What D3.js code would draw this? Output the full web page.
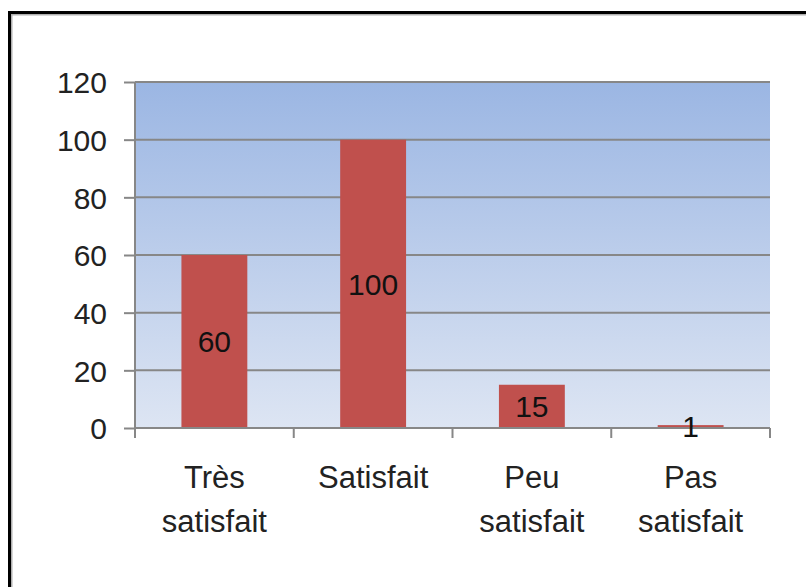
<!DOCTYPE html>
<html>
<head>
<meta charset="utf-8">
<script src="https://cdn.jsdelivr.net/npm/d3@7"></script>
<style>
  body { margin: 0; background: #fff; }
  svg { display: block; font-family: "Liberation Sans", Arial, sans-serif; }
</style>
</head>
<body>
<svg id="chart" width="806" height="587"></svg>
<script>
// Données du graphique
var categories = [["Très", "satisfait"], ["Satisfait"], ["Peu", "satisfait"], ["Pas", "satisfait"]];
var valeurs = [60, 100, 15, 1];
var ticksY = [0, 20, 40, 60, 80, 100, 120];

var svg = d3.select("#chart");

// Cadre noir (coupé à droite et en bas)
svg.append("rect")
    .attr("x", 9.5).attr("y", 12.5)
    .attr("width", 900).attr("height", 700)
    .attr("fill", "none")
    .attr("stroke", "#000")
    .attr("stroke-width", 3);
svg.append("rect")
    .attr("x", 11.75).attr("y", 14.75)
    .attr("width", 900).attr("height", 700)
    .attr("fill", "none")
    .attr("stroke", "#b0b0b0")
    .attr("stroke-width", 1.5);

// Zone de tracé (attention : "top" est réservé dans window)
var plotLeft = 135, plotRight = 770, plotTop = 82, plotBottom = 428;

var xScale = d3.scaleBand()
    .range([plotLeft, plotRight])
    .domain(d3.range(categories.length))
    .padding(0);

var yScale = d3.scaleLinear()
    .range([plotBottom, plotTop])
    .domain([0, 120]);

// Fond en dégradé
var defs = svg.append("defs");
var grad = defs.append("linearGradient")
    .attr("id", "fond")
    .attr("x1", 0).attr("y1", 0).attr("x2", 0).attr("y2", 1);
grad.append("stop").attr("offset", "0%").attr("stop-color", "#9bb6e3");
grad.append("stop").attr("offset", "100%").attr("stop-color", "#dde5f3");

svg.append("rect")
    .attr("x", plotLeft).attr("y", plotTop)
    .attr("width", plotRight - plotLeft).attr("height", plotBottom - plotTop)
    .attr("fill", "url(#fond)");

// Lignes de grille
svg.append("g")
    .selectAll("line")
    .data(ticksY.filter(d => d > 0))
    .enter()
    .append("line")
    .attr("x1", plotLeft).attr("x2", plotRight)
    .attr("y1", d => yScale(d)).attr("y2", d => yScale(d))
    .attr("stroke", "#878787")
    .attr("stroke-width", 2);

// Barres
var barW = xScale.bandwidth() * 0.415;
svg.append("g")
    .selectAll(".bar")
    .data(valeurs)
    .enter()
    .append("rect")
    .attr("class", "bar")
    .attr("x", (d, i) => xScale(i) + xScale.bandwidth() / 2 - barW / 2)
    .attr("y", d => yScale(d))
    .attr("width", barW)
    .attr("height", d => plotBottom - yScale(d))
    .attr("fill", "#c0504d");

// Axe Y
var axeY = svg.append("g")
    .attr("transform", `translate(${plotLeft}, 0)`)
    .call(d3.axisLeft(yScale).tickValues(ticksY).tickSize(11).tickPadding(17));
axeY.selectAll("path, line").attr("stroke", "#878787").attr("stroke-width", 2);
axeY.select(".domain").attr("d", `M0,${plotBottom}V${plotTop}`);
axeY.selectAll("text")
    .attr("font-size", 30)
    .attr("font-family", "Liberation Sans, Arial, sans-serif")
    .attr("fill", "#222")
    .attr("dy", "0.36em");

// Axe X
var axeX = svg.append("g")
    .attr("transform", `translate(0, ${plotBottom})`);
axeX.append("line")
    .attr("x1", plotLeft).attr("x2", plotRight)
    .attr("stroke", "#878787").attr("stroke-width", 2);
axeX.selectAll(".tick")
    .data(d3.range(categories.length + 1))
    .enter()
    .append("line")
    .attr("x1", d => d < categories.length ? xScale(d) : plotRight)
    .attr("x2", d => d < categories.length ? xScale(d) : plotRight)
    .attr("y1", 0).attr("y2", 10)
    .attr("stroke", "#878787").attr("stroke-width", 2);

// Libellés des catégories
var labels = svg.append("g")
    .selectAll("text")
    .data(categories)
    .enter()
    .append("text")
    .attr("text-anchor", "middle")
    .attr("font-size", 31)
    .attr("fill", "#222")
    .attr("x", (d, i) => xScale(i) + xScale.bandwidth() / 2)
    .attr("y", 488);
labels.selectAll("tspan")
    .data(d => d)
    .enter()
    .append("tspan")
    .attr("x", function () { return this.parentNode.getAttribute("x"); })
    .attr("dy", (d, i) => i === 0 ? 0 : 44)
    .text(d => d);

// Étiquettes de données
svg.append("g")
    .selectAll("text")
    .data(valeurs)
    .enter()
    .append("text")
    .attr("text-anchor", "middle")
    .attr("font-size", 30)
    .attr("fill", "#111")
    .attr("x", (d, i) => xScale(i) + xScale.bandwidth() / 2)
    .attr("y", d => (yScale(d) + plotBottom) / 2)
    .attr("dy", "0.36em")
    .text(d => d);
</script>
</body>
</html>
